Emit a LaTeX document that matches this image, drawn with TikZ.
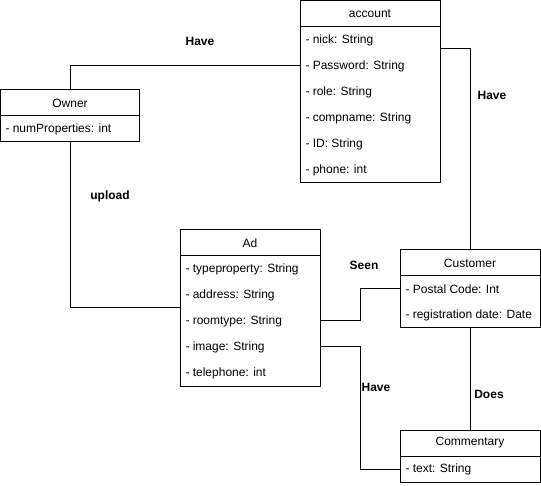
\documentclass[tikz,border=0pt]{standalone}
\usepackage{fontspec}
\setmainfont{Liberation Sans}
\begin{document}
\begin{tikzpicture}[x=1pt, y=-1pt,
  font=\fontsize{12}{14}\selectfont,
  line width=1pt,
  classhead/.style={draw, minimum width=140pt, minimum height=26pt, inner sep=0pt, outer sep=0pt, anchor=north west},
  classbody/.style={draw, minimum width=140pt, inner sep=0pt, outer sep=0pt, anchor=north west},
  field/.style={anchor=west, inner sep=0pt},
  rel/.style={font=\bfseries\fontsize{12}{14}\selectfont, inner sep=0pt},
  link/.style={draw, line width=1pt}]
\useasboundingbox (0,0) rectangle (541,486);

% account
\node[classhead] (acch) at (300,1) {account};
\node[classbody, minimum height=156pt] (accb) at (acch.south west) {};
\node[field] (acc1) at (305,40) {- nick: String};
\node[field] (acc2) at (305,66) {- Password: String};
\node[field] (acc3) at (305,92) {- role: String};
\node[field] (acc4) at (305,118) {- compname: String};
\node[field] (acc5) at (305,144) {- ID: String};
\node[field] (acc6) at (305,170) {- phone: int};

% Owner
\node[classhead, minimum width=139pt] (ownh) at (0.5,90) {Owner};
\node[classbody, minimum width=139pt, minimum height=26pt] (ownb) at (ownh.south west) {};
\node[field] (own1) at (5,129) {- numProperties: int};

% Ad
\node[classhead] (adh) at (180,230) {Ad};
\node[classbody, minimum height=130pt] (adb) at (adh.south west) {};
\node[field] (ad1) at (185,269) {- typeproperty: String};
\node[field] (ad2) at (185,295) {- address: String};
\node[field] (ad3) at (185,321) {- roomtype: String};
\node[field] (ad4) at (185,347) {- image: String};
\node[field] (ad5) at (185,373) {- telephone: int};

% Customer
\node[classhead] (cush) at (400,250) {Customer};
\node[classbody, minimum height=52pt] (cusb) at (cush.south west) {};
\node[field] (cus1) at (405,289) {- Postal Code: Int};
\node[field] (cus2) at (405,315) {- registration date: Date};

% Commentary
\node[classhead] (comh) at (400,430) {Commentary};
\node[classbody, minimum height=26pt] (comb) at (comh.south west) {};
\node[field] (com1) at (405,469) {- text: String};

% relations
\draw[link] (ownh.north) |- (accb.west |- acc2);
\draw[link] (accb.east |- 0,49) -| (cush.north);
\draw[link] (ownb.south) |- (adb.west |- 0,308);
\draw[link] (adb.east |- ad3) -- ++(40,0) |- (cusb.west |- cus1);
\draw[link] (adb.east |- ad4) -- ++(40,0) |- (comb.west |- com1);
\draw[link] (cusb.south) -- (comh.north);

% relation labels
\node[rel] (l1) at (200,41) {Have};
\node[rel] (l2) at (492,95) {Have};
\node[rel] (l3) at (110,196) {upload};
\node[rel] (l4) at (364,265) {Seen};
\node[rel] (l5) at (376,387) {Have};
\node[rel] (l6) at (489,394) {Does};
\end{tikzpicture}
\end{document}
